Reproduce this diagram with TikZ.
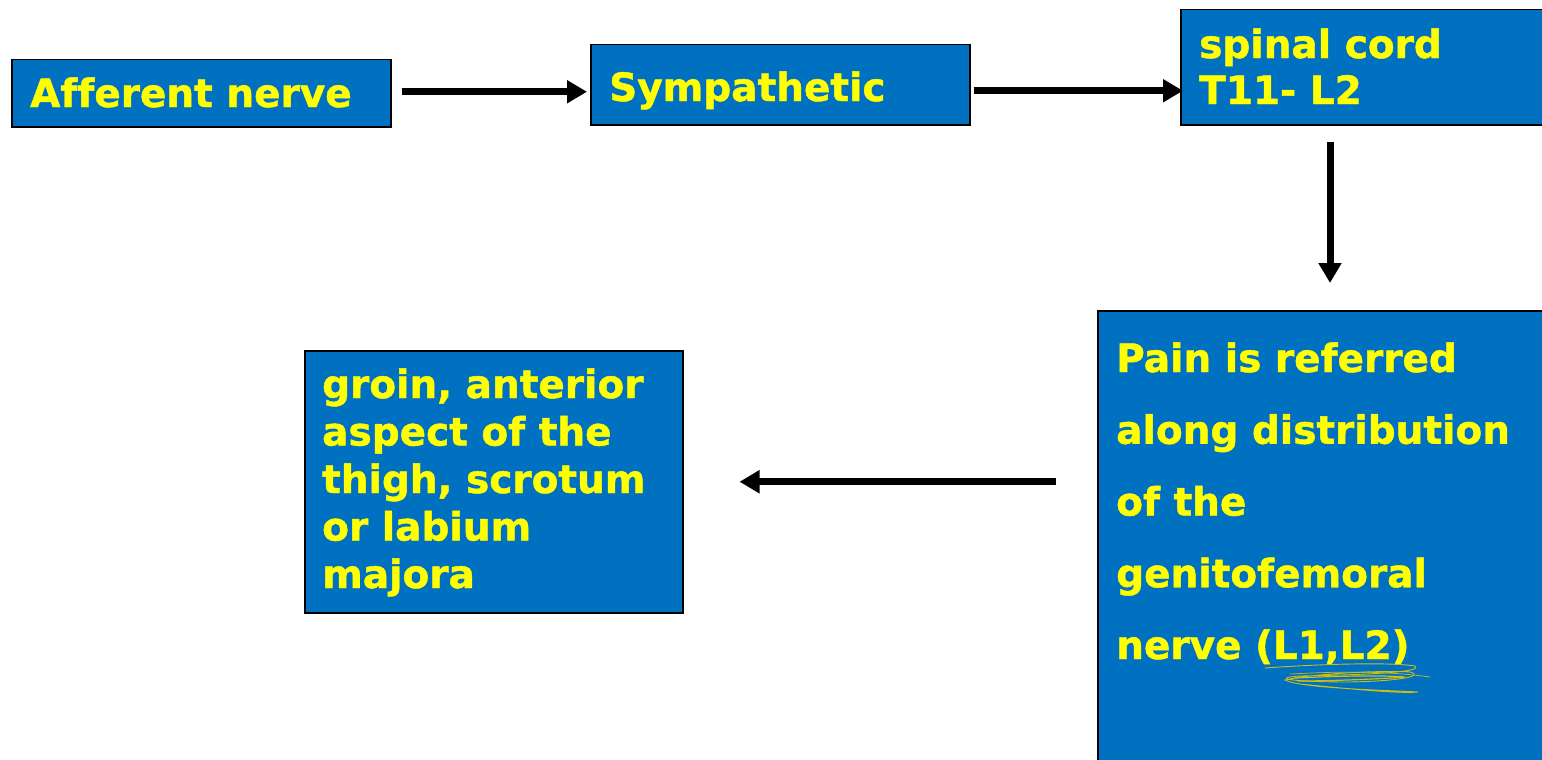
\documentclass[tikz,border=0pt]{standalone}
\usepackage{fontspec}
\setmainfont{DejaVu Sans}
\newfontfamily\lblfont[Ligatures=NoCommon, BoldFeatures={FakeBold=1.2, Ligatures=NoCommon}]{DejaVu Sans}
\usetikzlibrary{arrows.meta}
\definecolor{boxblue}{HTML}{0070C0}
\definecolor{txtyellow}{HTML}{FFFF00}
\definecolor{scribble}{RGB}{205,190,20}
\tikzset{
  box/.style={draw=black, line width=1.5pt, fill=boxblue, inner sep=0pt, anchor=north west},
  lbl/.style={text=txtyellow, inner sep=0pt, anchor=base west, align=left, font=\lblfont\fontsize{39}{47.5}\selectfont\bfseries},
  arr/.style={line width=7pt, -{Triangle[width=22pt,length=20pt]}},
}
\begin{document}
\begin{tikzpicture}[x=1pt,y=-1pt]
\useasboundingbox (0,0) rectangle (1542,760);
\begin{scope}
\clip (0,0) rectangle (1542,760);
% boxes
\node[box, minimum width=379pt, minimum height=67pt] (a) at (11,59) {};
\node[box, minimum width=379pt, minimum height=80pt] (b) at (590,44) {};
\node[box, minimum width=372pt, minimum height=115pt] (c) at (1180,9) {};
\node[box, minimum width=455pt, minimum height=465pt] (d) at (1097,310) {};
\node[box, minimum width=378pt, minimum height=262pt] (e) at (304,350) {};
% labels (anchor = baseline of last line)
\node[lbl] (ta) at (30,107) {Afferent nerve};
\node[lbl] (tb) at (609,101) {Sympathetic};
\node[lbl, font=\lblfont\fontsize{39}{46}\selectfont\bfseries] (tc) at (1199,104) {spinal cord\\T11- L2};
\node[lbl, font=\lblfont\fontsize{39}{71.75}\selectfont\bfseries] (td) at (1116,659) {Pain is referred\\along distribution\\of the\\genitofemoral\\nerve (L1,L2)};
\node[lbl] (te) at (322,588) {groin, anterior\\aspect of the\\thigh, scrotum\\or labium\\majora};
% connectors
\draw[arr, shorten <=10pt, shorten >=3pt] ([yshift=1.5pt]a.east) -- ([yshift=1.5pt]a.east -| b.west);
\draw[arr, shorten <=3pt, shorten >=-3pt] ([yshift=-6pt]b.east) -- ([yshift=-6pt]b.east -| c.west);
\draw[arr, shorten <=16pt, shorten >=27pt] ([xshift=150pt]c.south west) -- ([xshift=150pt]c.south west |- d.north);
\draw[arr, shorten <=41pt, shorten >=56pt] (e.east -| d.west) -- (e.east);
% hand-drawn scribble under (L1,L2)
\draw[scribble, line width=0.9pt, line cap=round]
  (1265,668) .. controls (1320,664) and (1390,662) .. (1415,666)
  .. controls (1420,670) and (1405,674) .. (1300,676)
  .. controls (1270,678) and (1290,682) .. (1350,682)
  .. controls (1400,681) and (1425,676) .. (1410,672)
  .. controls (1380,670) and (1310,674) .. (1285,680)
  .. controls (1300,688) and (1380,690) .. (1418,692)
  .. controls (1400,694) and (1340,688) .. (1300,684);
\draw[scribble, line width=0.7pt, line cap=round]
  (1290,674) .. controls (1330,672) and (1380,670) .. (1430,677);
\draw[scribble, line width=1.2pt, line cap=round]
  (1295,678) .. controls (1340,676) and (1380,675) .. (1405,677)
  .. controls (1380,679) and (1330,681) .. (1298,681);
\end{scope}
\end{tikzpicture}
\end{document}
